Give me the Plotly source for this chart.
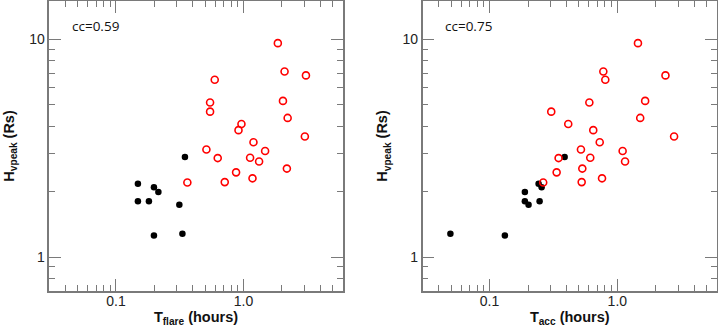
import plotly.graph_objects as go

# Black (filled) group
hv_black = [2.17, 2.09, 1.99, 1.805, 1.805, 1.741, 2.88, 1.256, 1.279]
tflare_black = [0.1486, 0.1985, 0.215, 0.1486, 0.1813, 0.314, 0.3476, 0.1985, 0.332]
tacc_black = [0.242, 0.2556, 0.189, 0.189, 0.2465, 0.202, 0.387, 0.1318, 0.0494]

# Red (open) group
hv_red = [9.62, 7.13, 6.84, 6.53, 5.13, 5.22, 4.66, 4.36, 4.09, 3.83, 3.58,
          3.37, 3.12, 3.07, 2.85, 2.86, 2.75, 2.55, 2.45, 2.30, 2.21, 2.20]
tflare_red = [1.86, 2.10, 3.09, 0.595, 0.547, 2.04, 0.547, 2.22, 0.964, 0.914, 3.03,
              1.198, 0.512, 1.478, 0.628, 1.127, 1.326, 2.19, 0.875, 1.177, 0.713, 0.363]
tacc_red = [1.45, 0.777, 2.38, 0.805, 0.604, 1.65, 0.304, 1.51, 0.413, 0.648, 2.78,
            0.728, 0.519, 1.10, 0.347, 0.614, 1.149, 0.532, 0.335, 0.759, 0.526, 0.263]

cc_labels = ["cc=0.59", "cc=0.75"]
x_titles = ["T<sub>flare</sub> (hours)", "T<sub>acc</sub> (hours)"]
y_title = "H<sub>vpeak</sub> (Rs)"
x_tickvals = [0.1, 1.0]
x_ticktext = ["0.1", "1.0"]
y_tickvals = [1, 10]
y_ticktext = ["1", "10"]
x_minor = [m * d for d in (0.01, 0.1, 1.0) for m in range(2, 10)]
y_minor = [m * d for d in (0.1, 1.0) for m in range(2, 10)]

W, H = 718, 327
frame_col = "#7a7a7a"
tick_font = dict(family="Liberation Sans, Arial, sans-serif", size=14, color="#222")
title_font = dict(family="Liberation Sans, Arial, sans-serif", size=14.5, color="#111")

fig = go.Figure()

panels = [
    dict(xs=(tflare_black, tflare_red), dom=[49.3 / W, 342.7 / W]),
    dict(xs=(tacc_black, tacc_red), dom=[422.7 / W, 716.8 / W]),
]
ydom = [1 - 290.7 / H, 1 - 1.2 / H]

for i, p in enumerate(panels):
    xa = "x" if i == 0 else "x2"
    ya = "y" if i == 0 else "y2"
    fig.add_trace(go.Scatter(
        x=p["xs"][0], y=hv_black, mode="markers", xaxis=xa, yaxis=ya,
        marker=dict(color="black", size=6.5, line=dict(width=0)), showlegend=False))
    fig.add_trace(go.Scatter(
        x=p["xs"][1], y=hv_red, mode="markers", xaxis=xa, yaxis=ya,
        marker=dict(symbol="circle-open", color="red", size=7, line=dict(width=1.6, color="red")),
        showlegend=False))

    axis_common = dict(type="log", showgrid=False, zeroline=False, showline=True,
                       linecolor=frame_col, linewidth=1.5, mirror="allticks",
                       ticks="inside", ticklen=12, tickwidth=1.2, tickcolor=frame_col,
                       tickfont=tick_font)
    xkey = "xaxis" if i == 0 else "xaxis2"
    ykey = "yaxis" if i == 0 else "yaxis2"
    fig.layout[xkey] = dict(axis_common, domain=p["dom"], anchor=ya,
                            range=[-1.5229, 0.7782], ticklabelstandoff=-3,
                            tickmode="array", tickvals=x_tickvals, ticktext=x_ticktext,
                            minor=dict(ticks="inside", ticklen=6, tickwidth=1.2, tickcolor=frame_col,
                                       tickmode="array", tickvals=x_minor, showgrid=False),
                            title=dict(text="<b>" + x_titles[i] + "</b>", font=title_font, standoff=2))
    fig.layout[ykey] = dict(axis_common, domain=ydom, anchor=xa,
                            range=[-0.1549, 1.1761],
                            tickmode="array", tickvals=y_tickvals, ticktext=y_ticktext,
                            minor=dict(ticks="inside", ticklen=6, tickwidth=1.2, tickcolor=frame_col,
                                       tickmode="array", tickvals=y_minor, showgrid=False),
                            title=dict(text="<b>" + y_title + "</b>", font=title_font, standoff=11))
    fig.add_annotation(text=cc_labels[i], xref=xa + " domain", yref=ya + " domain",
                       x=0.07, y=0.914, xanchor="left", yanchor="middle", showarrow=False,
                       font=dict(family="Open Sans, Noto Sans, sans-serif", size=13.5, color="#111"))

fig.update_layout(width=W, height=H, margin=dict(l=0, r=0, t=0, b=0, autoexpand=False),
                  paper_bgcolor="white", plot_bgcolor="white")

fig.write_html("out.html", config={"displayModeBar": False},
               post_script="document.body.style.margin='0';")
